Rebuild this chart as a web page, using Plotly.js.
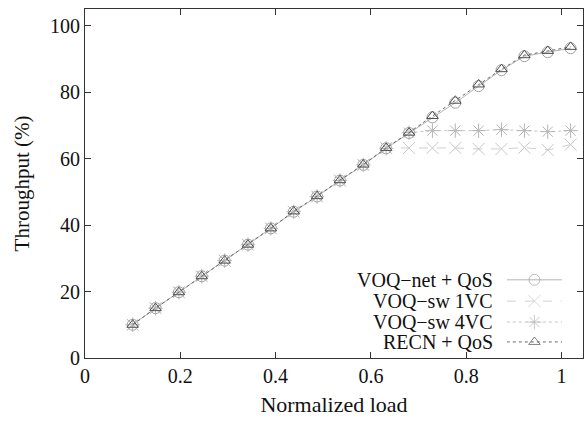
<!DOCTYPE html>
<html>
<head>
<meta charset="utf-8">
<script src="https://cdn.plot.ly/plotly-3.0.1.min.js"></script>
<style>html,body{margin:0;padding:0;background:#fff;}#chart{width:585px;height:422px;}</style>
</head>
<body>
<div id="chart"></div>
<script>
// Normalized load (x) values
const load = [0.100, 0.148, 0.197, 0.245, 0.293, 0.342, 0.390, 0.438, 0.487, 0.535,
              0.584, 0.632, 0.680, 0.729, 0.777, 0.826, 0.874, 0.922, 0.971, 1.019];
// Throughput (%) per series
const voqNetQoS = [10.0, 15.0, 19.8, 24.6, 29.3, 34.1, 39.0, 44.0, 48.6, 53.4,
                   58.1, 63.1, 67.7, 72.4, 76.8, 81.8, 86.6, 90.8, 92.0, 93.2];
const voqSw1VC  = [10.0, 15.0, 19.8, 24.6, 29.3, 34.1, 39.0, 44.0, 48.6, 53.4,
                   58.1, 63.2, 63.2, 63.2, 63.2, 62.9, 62.9, 63.3, 62.6, 64.2];
const voqSw4VC  = [10.0, 15.0, 19.8, 24.6, 29.3, 34.1, 39.0, 44.0, 48.6, 53.4,
                   58.1, 63.1, 67.8, 68.4, 68.4, 68.4, 68.7, 68.4, 68.1, 68.4];
const recnQoS   = [10.0, 15.0, 19.8, 24.6, 29.3, 34.1, 39.0, 44.1, 48.7, 53.5,
                   58.2, 63.2, 67.8, 72.8, 77.4, 82.3, 86.9, 91.1, 92.4, 93.6];
const seriesNames = ["VOQ\u2212net + QoS", "VOQ\u2212sw 1VC", "VOQ\u2212sw 4VC", "RECN + QoS"];
const xTicks = [0, 0.2, 0.4, 0.6, 0.8, 1];
const xTickText = ["0", "0.2", "0.4", "0.6", "0.8", "1"];
const yTicks = [0, 20, 40, 60, 80, 100];

const styles = [
  {line: {color: "#b4b4b4", width: 1, dash: "solid"}, marker: {symbol: "circle-open", size: 11, color: "#a0a0a0", line: {width: 1}}},
  {line: {color: "#d0d0d0", width: 1, dash: "dash"}, marker: {symbol: "x-thin-open", size: 12, color: "#c8c8c8", line: {width: 1}}},
  {line: {color: "#c4c4c4", width: 1, dash: "dot"}, marker: {symbol: "asterisk-open", size: 12, color: "#b4b4b4", line: {width: 1}}},
  {line: {color: "#6a6a6a", width: 1, dash: "dot"}, marker: {symbol: "triangle-up-open", size: 10, color: "#505050", line: {width: 1}}}
];
const seriesData = [voqNetQoS, voqSw1VC, voqSw4VC, recnQoS];
const font = '"Liberation Serif", "Times New Roman", Times, serif';

const traces = [];
// main data traces
seriesData.forEach((ys, i) => {
  traces.push({
    x: load, y: ys, type: "scatter", mode: "lines+markers", name: seriesNames[i],
    line: styles[i].line, marker: styles[i].marker, showlegend: false, hoverinfo: "skip"
  });
});
// legend key samples (on a hidden overlay axis)
const legendY = [0.224, 0.163, 0.103, 0.046];
const legendX = [0, 0.5, 1];
seriesData.forEach((ys, i) => {
  const m = Object.assign({}, styles[i].marker, {size: legendX.map((v, k) => k === 1 ? styles[i].marker.size : 0)});
  traces.push({
    x: legendX, y: legendX.map(() => legendY[i]), type: "scatter", mode: "lines+markers",
    xaxis: "x2", yaxis: "y2", line: styles[i].line, marker: m, showlegend: false, hoverinfo: "skip"
  });
});

const annotations = seriesNames.map((n, i) => ({
  text: n, xref: "paper", yref: "paper", x: 0.822, y: legendY[i],
  xanchor: "right", yanchor: "middle", showarrow: false, height: 20, borderpad: 0,
  font: {family: font, size: 20, color: "#111"}
}));

const axisCommon = {
  showline: true, linecolor: "#333", linewidth: 1, mirror: "ticks",
  ticks: "inside", ticklen: 6, tickcolor: "#333", showgrid: false, zeroline: false,
  tickfont: {family: font, size: 20, color: "#111"}
};

const layout = {
  width: 585, height: 422,
  margin: {l: 85, r: 2, t: 9, b: 64},
  paper_bgcolor: "#fff", plot_bgcolor: "rgba(0,0,0,0)",
  font: {family: font, size: 20, color: "#111"},
  showlegend: false,
  xaxis: Object.assign({}, axisCommon, {
    range: [0, 1.045], tickvals: xTicks, ticktext: xTickText,
    title: {text: "Normalized load", font: {family: font, size: 22, color: "#111"}, standoff: 10}
  }),
  yaxis: Object.assign({}, axisCommon, {
    range: [0, 105], tickvals: yTicks,
    title: {text: "Throughput (%)", font: {family: font, size: 21, color: "#111"}, standoff: 14}
  }),
  xaxis2: {domain: [0.847, 0.958], range: [0, 1], visible: false, anchor: "y2"},
  yaxis2: {domain: [0, 1], range: [0, 1], visible: false, anchor: "x2", overlaying: "y"},
  annotations: annotations
};

Plotly.newPlot("chart", traces, layout, {staticPlot: true, displayModeBar: false});
</script>
</body>
</html>
